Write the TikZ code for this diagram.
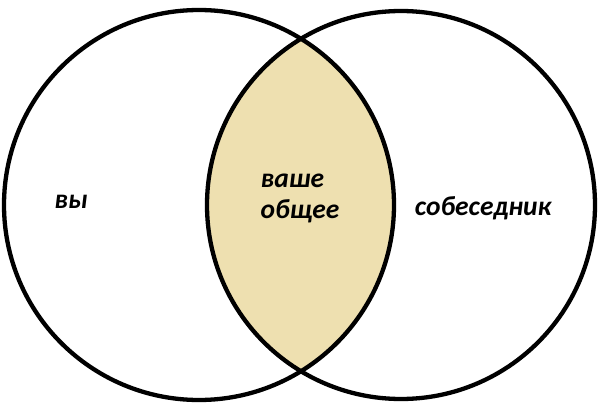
\documentclass[tikz,border=0pt]{standalone}
\usepackage{fontspec}
\setmainfont{Carlito}
\begin{document}
\begin{tikzpicture}[x=1pt,y=-1pt,
  ring/.style={draw=black,line width=4.3pt},
  lbl/.style={font=\fontsize{27.5}{31}\selectfont\bfseries\itshape,inner sep=0pt}]
\definecolor{lens}{RGB}{238,224,176}
\useasboundingbox (0,0) rectangle (600,409);
\fill[white] (0,0) rectangle (600,409);
\coordinate (cl) at (199,205);
\coordinate (cr) at (401,205);
\begin{scope}
  \clip (cl) circle[radius=195];
  \fill[lens] (cr) circle[radius=194];
\end{scope}
\draw[ring] (cl) circle[radius=195];
\draw[ring] (cr) circle[radius=194];
\node[lbl] (you) at (71,202) {вы};
\node[lbl,align=left] (common) at (300,198) {ваше\\общее};
\node[lbl] (other) at (483,208) {собеседник};
\end{tikzpicture}
\end{document}
